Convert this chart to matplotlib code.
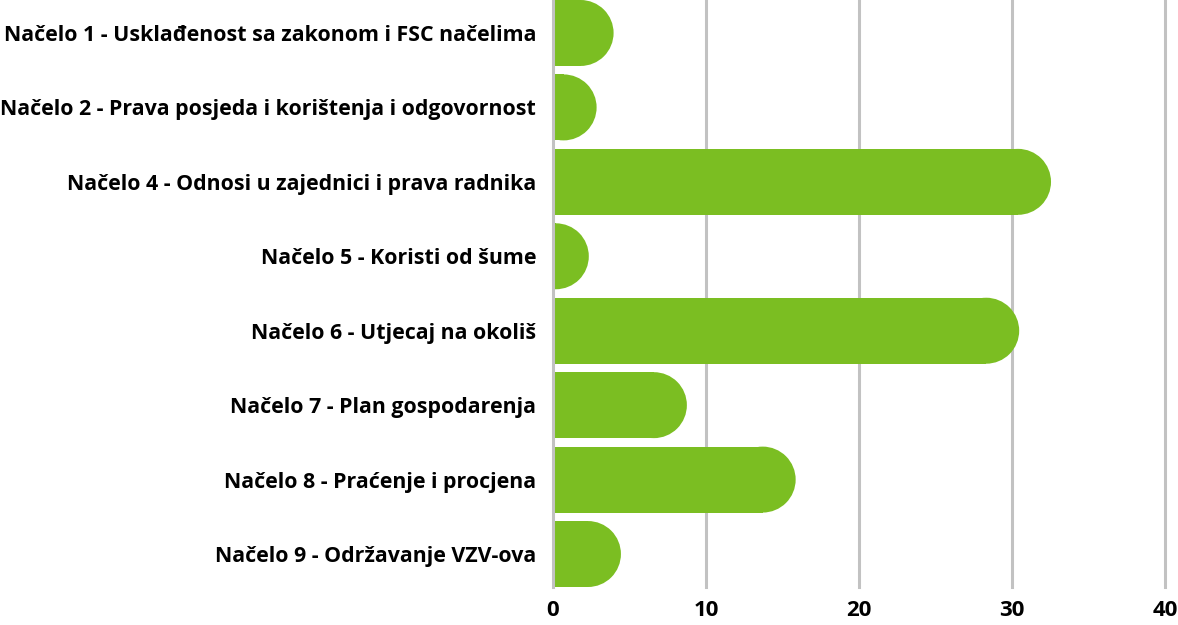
import matplotlib
matplotlib.use("Agg")
import matplotlib.pyplot as plt
from matplotlib.patches import Rectangle, Ellipse

categories = [
    "Načelo 1 - Usklađenost sa zakonom i FSC načelima",
    "Načelo 2 - Prava posjeda i korištenja i odgovornost",
    "Načelo 4 - Odnosi u zajednici i prava radnika",
    "Načelo 5 - Koristi od šume",
    "Načelo 6 - Utjecaj na okoliš",
    "Načelo 7 - Plan gospodarenja",
    "Načelo 8 - Praćenje i procjena",
    "Načelo 9 - Održavanje VZV-ova",
]
values = [3.96, 2.85, 32.55, 2.34, 30.47, 8.75, 15.86, 4.44]
x_ticks = [0, 10, 20, 30, 40]

GREEN = "#7BBE22"
GRID = "#C2C2C2"

plt.rcParams["font.family"] = ["Open Sans", "DejaVu Sans"]
plt.rcParams["font.weight"] = "bold"

fig = plt.figure(figsize=(11.78, 6.25), dpi=100)
ax = fig.add_axes([553 / 1178, 38 / 625, 612 / 1178, 587 / 625])

ax.set_xlim(0, 40)
n = len(categories)
ax.set_ylim(n - 1 + 0.443, -0.443)

bar_h = 0.886
# rounded cap radius in data units (semicircle in pixels)
ax_w_px = 612
ax_h_px = 587
px_per_x = ax_w_px / 40
px_per_y = ax_h_px / (n - 1 + 0.886)
r_px = bar_h * px_per_y / 2
rx = r_px / px_per_x

for i, v in enumerate(values):
    flat = max(v - rx, 0)
    ax.add_patch(Rectangle((0, i - bar_h / 2), flat, bar_h, facecolor=GREEN,
                           edgecolor="none", zorder=2))
    ax.add_patch(Ellipse((flat, i), 2 * rx, bar_h, facecolor=GREEN,
                         edgecolor="none", zorder=2))

for t in x_ticks[1:]:
    ax.axvline(t, color=GRID, linewidth=2.2, zorder=1, clip_on=False)
ax.axvline(0, color=GRID, linewidth=2.2, zorder=3, clip_on=False)

ax.set_yticks(range(n))
ax.set_yticklabels(categories, fontsize=15.4, fontweight="bold")
ax.set_xticks(x_ticks)
ax.set_xticklabels([str(t) for t in x_ticks], fontsize=16, fontweight="bold")
ax.tick_params(axis="y", length=0, pad=12)
ax.tick_params(axis="x", length=0, pad=9)
for s in ax.spines.values():
    s.set_visible(False)

fig.savefig("out.png", dpi=100)
